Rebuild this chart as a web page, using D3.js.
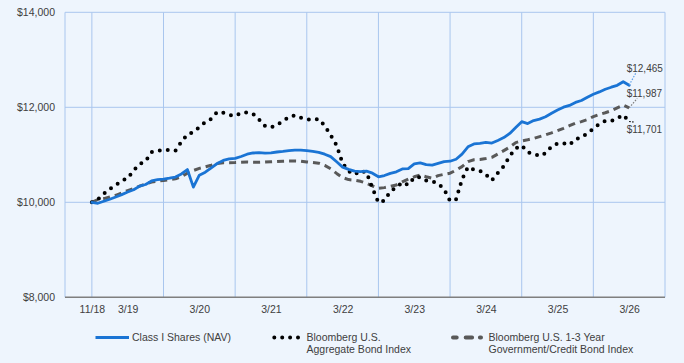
<!DOCTYPE html>
<html>
<head>
<meta charset="utf-8">
<script src="https://cdn.jsdelivr.net/npm/d3@7"></script>
<style>
    html, body { margin: 0; padding: 0; background: #eef5fd; }
    svg { display: block; font-family: Arial, "Liberation Sans", sans-serif; }
    .grid line { stroke: #a9c6ee; stroke-width: 1; }
    .axis path, .axis line { display: none; }
    .axis text { fill: #404040; font-size: 10.5px; }
    .base-line { stroke: #7f7f7f; stroke-width: 1.5; }
    .end-label { fill: #404040; font-size: 10px; }
    .legend text { fill: #404040; font-size: 10.5px; }
</style>
</head>
<body>
<div id="chart"></div>
<script>
// Monthly growth of $10,000, first month labelled 11/18
const classI = [10000, 9979, 10023, 10065, 10112, 10162, 10217, 10263, 10341, 10375,
    10450, 10478, 10488, 10507, 10532, 10596, 10690, 10320, 10570, 10634,
    10726, 10817, 10882, 10916, 10924, 10964, 11013, 11038, 11046, 11036,
    11042, 11059, 11073, 11090, 11100, 11098, 11086, 11071, 11052, 11013,
    10962, 10853, 10741, 10693, 10655, 10645, 10655, 10613, 10537, 10564,
    10610, 10642, 10703, 10711, 10810, 10831, 10794, 10783, 10819, 10857,
    10865, 10907, 11013, 11168, 11229, 11242, 11263, 11248, 11303, 11362,
    11450, 11575, 11697, 11657, 11720, 11751, 11802, 11874, 11941, 12002,
    12040, 12103, 12143, 12212, 12276, 12324, 12379, 12423, 12463, 12539,
    12465];

const aggregate = [10000, 10057, 10179, 10280, 10362, 10453, 10507, 10671, 10806, 10867,
    11059, 11086, 11101, 11101, 11086, 11274, 11427, 11478, 11581, 11688,
    11758, 11903, 11886, 11840, 11817, 11880, 11895, 11861, 11744, 11606,
    11575, 11631, 11709, 11793, 11833, 11783, 11749, 11738, 11753, 11610,
    11412, 11198, 10821, 10653, 10585, 10663, 10627, 10297, 9996, 10038,
    10232, 10312, 10419, 10366, 10520, 10528, 10459, 10440, 10394, 10274,
    10029, 10061, 10480, 10745, 10688, 10665, 10585, 10463, 10617, 10762,
    10975, 11135, 11196, 11053, 11021, 10973, 11034, 11175, 11238, 11244,
    11208, 11326, 11370, 11452, 11551, 11652, 11713, 11713, 11770, 11840,
    11701];

const govCredit = [10000, 10059, 10078, 10112, 10147, 10198, 10246, 10293, 10341, 10387,
    10427, 10446, 10461, 10476, 10493, 10537, 10613, 10669, 10714, 10745,
    10779, 10817, 10834, 10834, 10836, 10842, 10848, 10844, 10842, 10846,
    10853, 10859, 10865, 10869, 10869, 10867, 10850, 10836, 10823, 10777,
    10705, 10608, 10520, 10478, 10465, 10442, 10400, 10343, 10295, 10309,
    10335, 10364, 10429, 10488, 10537, 10573, 10537, 10509, 10562, 10589,
    10613, 10676, 10751, 10857, 10895, 10901, 10922, 10947, 11017, 11088,
    11162, 11257, 11293, 11316, 11343, 11383, 11421, 11463, 11509, 11558,
    11613, 11667, 11699, 11741, 11804, 11850, 11886, 11928, 11989, 12048,
    11987];

// x tick labels and the month index they sit under
const xTickLabels = ["11/18", "3/19", "3/20", "3/21", "3/22", "3/23", "3/24", "3/25", "3/26"];
const xTickMonths = [0, 6, 18, 30, 42, 54, 66, 78, 90];
const gridMonths = [0, 12, 24, 36, 48, 60, 72, 84, 96];
const yTicks = [8000, 10000, 12000, 14000];

const width = 684;
const height = 363;
const plot = { left: 65, right: 665, top: 12.3, bottom: 297.3 };

const svg = d3.select("#chart")
    .append("svg")
    .attr("width", width)
    .attr("height", height);

const x = d3.scaleLinear()
    .domain([-4.5, 96])
    .range([plot.left, plot.right]);

const y = d3.scaleLinear()
    .domain([8000, 14000])
    .range([plot.bottom, plot.top]);

// gridlines
const grid = svg.append("g").attr("class", "grid");

grid.selectAll(".vgrid")
    .data([x.domain()[0], ...gridMonths])
    .join("line")
    .attr("x1", d => x(d)).attr("x2", d => x(d))
    .attr("y1", plot.top).attr("y2", plot.bottom);

grid.selectAll(".hgrid")
    .data(yTicks.filter(d => d > 8000))
    .join("line")
    .attr("x1", plot.left).attr("x2", plot.right)
    .attr("y1", d => y(d)).attr("y2", d => y(d));

svg.append("line")
    .attr("class", "base-line")
    .attr("x1", plot.left).attr("x2", plot.right)
    .attr("y1", y(8000)).attr("y2", y(8000));

// axes
svg.append("g")
    .attr("class", "axis")
    .attr("transform", `translate(${plot.left},0)`)
    .call(d3.axisLeft(y)
        .tickValues(yTicks)
        .tickSize(0)
        .tickPadding(10)
        .tickFormat(d3.format("$,")));

svg.append("g")
    .attr("class", "axis")
    .attr("transform", `translate(0,${plot.bottom})`)
    .call(d3.axisBottom(x)
        .tickValues(xTickMonths)
        .tickSize(0)
        .tickPadding(8)
        .tickFormat((d, i) => xTickLabels[i]));

// series
const series = [
    { key: "govCredit", values: govCredit, color: "#595959", width: 3, dash: "7,5", cap: "butt",
      leader: "#7f7f7f", lead: [8, -9.5], label: [-2.5, -11] },
    { key: "aggregate", values: aggregate, color: "#000000", width: 4, dash: "0,8", cap: "round",
      leader: "#000000", lead: [4.5, 0.5], label: [-2.5, 11.5] },
    { key: "classI", values: classI, color: "#1a74d4", width: 2.8, dash: null, cap: "round",
      leader: "#5b9fe8", lead: [6.5, -12], label: [-2.5, -13] }
];

const line = d3.line()
    .x((d, i) => x(i))
    .y(d => y(d));

svg.selectAll(".series")
    .data(series)
    .join("path")
    .attr("class", "series")
    .attr("d", d => line(d.values))
    .attr("fill", "none")
    .attr("stroke", d => d.color)
    .attr("stroke-width", d => d.width)
    .attr("stroke-dasharray", d => d.dash)
    .attr("stroke-linecap", d => d.cap)
    .attr("stroke-linejoin", "round");

// end value labels with dotted leaders
const endX = d => x(d.values.length - 1);
const endY = d => y(d.values[d.values.length - 1]);

svg.selectAll(".leader")
    .data(series)
    .join("line")
    .attr("class", "leader")
    .attr("x1", endX)
    .attr("y1", endY)
    .attr("x2", d => endX(d) + d.lead[0])
    .attr("y2", d => endY(d) + d.lead[1])
    .attr("stroke", d => d.leader)
    .attr("stroke-width", 1.2)
    .attr("stroke-dasharray", "1.5,1.5");

svg.selectAll(".end-label")
    .data(series)
    .join("text")
    .attr("class", "end-label")
    .attr("x", d => endX(d) + d.label[0])
    .attr("y", d => endY(d) + d.label[1])
    .text(d => d3.format("$,")(d.values[d.values.length - 1]));

// legend
const legendItems = [
    { lines: ["Class I Shares (NAV)"], x0: 95.5, x1: 129, tx: 132, color: "#1a74d4", width: 2.8, dash: null, cap: "butt" },
    { lines: ["Bloomberg U.S.", "Aggregate Bond Index"], x0: 274.3, x1: 298.3, tx: 306.5, color: "#000000", width: 4, dash: "0,7.9", cap: "round" },
    { lines: ["Bloomberg U.S. 1-3 Year", "Government/Credit Bond Index"], x0: 453, x1: 481, tx: 488.5, color: "#595959", width: 4, dash: "3.7,9,6.4,7.8,1.1", cap: "round" }
];

const legend = svg.append("g").attr("class", "legend");

const item = legend.selectAll("g")
    .data(legendItems)
    .join("g");

item.append("line")
    .attr("x1", d => d.x0).attr("x2", d => d.x1)
    .attr("y1", 337.5).attr("y2", 337.5)
    .attr("stroke", d => d.color)
    .attr("stroke-width", d => d.width)
    .attr("stroke-dasharray", d => d.dash)
    .attr("stroke-linecap", d => d.cap);

item.append("text")
    .attr("x", d => d.tx)
    .attr("y", 340.5)
    .selectAll("tspan")
    .data(d => d.lines.map(t => ({ t, tx: d.tx })))
    .join("tspan")
    .attr("x", d => d.tx)
    .attr("dy", (d, i) => i === 0 ? 0 : 12.5)
    .text(d => d.t);
</script>
</body>
</html>
